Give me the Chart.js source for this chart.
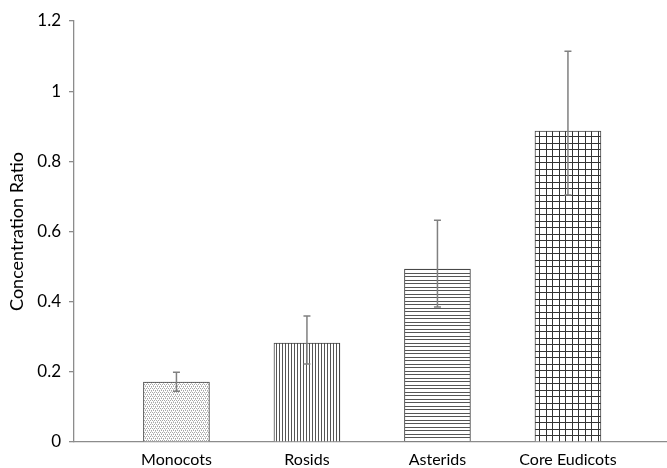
<!DOCTYPE html>
<html>
<head>
<meta charset="utf-8">
<script src="https://cdn.jsdelivr.net/npm/chart.js@4"></script>
<style>
  html, body { margin: 0; padding: 0; background: #fff; }
  #wrap { width: 667px; height: 468px; }
</style>
</head>
<body>
<div id="wrap"><canvas id="chart" width="667" height="468"></canvas></div>
<script>
// data
const categories = ["Monocots", "Rosids", "Asterids", "Core Eudicots"];
const ratios = [0.171, 0.282, 0.493, 0.886];
const errLow = [0.145, 0.222, 0.385, 0.704];
const errHigh = [0.199, 0.359, 0.632, 1.114];
const yTicks = [0, 0.2, 0.4, 0.6, 0.8, 1, 1.2];

// small fill patterns like the Excel originals
function makePattern(size, draw) {
    const c = document.createElement("canvas");
    c.width = size[0];
    c.height = size[1];
    const g = c.getContext("2d");
    g.fillStyle = "#fff";
    g.fillRect(0, 0, c.width, c.height);
    draw(g);
    return c.getContext("2d").createPattern(c, "repeat");
}

const ctx = document.getElementById("chart").getContext("2d");

const patterns = [
    makePattern([4, 4], g => {
        g.fillStyle = "#a8a8a8";
        g.fillRect(0, 0, 1, 1);
        g.fillRect(2, 0, 1, 1);
        g.fillRect(1, 2, 1, 1);
        g.fillRect(3, 2, 1, 1);
        g.fillStyle = "#c8c8c8";
        g.fillRect(1, 1, 1, 1);
        g.fillRect(3, 3, 1, 1);
    }),
    makePattern([3, 3], g => {
        g.fillStyle = "#555";
        g.fillRect(0, 0, 1, 3);
    }),
    makePattern([7, 7], g => {
        g.fillStyle = "#555";
        g.fillRect(0, 0, 7, 1);
        g.fillRect(0, 3, 7, 1);
    }),
    makePattern([13, 13], g => {
        g.fillStyle = "#333";
        g.fillRect(0, 0, 13, 1);
        g.fillRect(0, 6, 13, 1);
        g.fillRect(0, 0, 1, 13);
        g.fillRect(6, 0, 1, 13);
    })
];

// error bars drawn through the scales
const errorBars = {
    id: "errorBars",
    afterDatasetsDraw(chart) {
        const { ctx, scales } = chart;
        ctx.save();
        ctx.strokeStyle = "#808080";
        ctx.lineWidth = 1.5;
        categories.forEach((_, i) => {
            const x = scales.x.getPixelForValue(i);
            const yLo = scales.y.getPixelForValue(errLow[i]);
            const yHi = scales.y.getPixelForValue(errHigh[i]);
            ctx.beginPath();
            ctx.moveTo(x, yLo);
            ctx.lineTo(x, yHi);
            ctx.moveTo(x - 3.5, yLo);
            ctx.lineTo(x + 3.5, yLo);
            ctx.moveTo(x - 3.5, yHi);
            ctx.lineTo(x + 3.5, yHi);
            ctx.stroke();
        });
        ctx.restore();
    }
};

new Chart(ctx, {
    type: "bar",
    data: {
        datasets: [{
            data: ratios.map((v, i) => ({ x: i, y: v })),
            backgroundColor: patterns,
            borderColor: "#444",
            borderWidth: 1,
            barThickness: 66
        }]
    },
    options: {
        responsive: false,
        animation: false,
        layout: { padding: { top: 21, right: 0, left: 0, bottom: 0 } },
        plugins: {
            legend: { display: false },
            tooltip: { enabled: false }
        },
        scales: {
            x: {
                type: "linear",
                offset: false,
                min: -0.785,
                max: 3.759,
                afterBuildTicks: scale => {
                    scale.ticks = categories.map((_, i) => ({ value: i }));
                },
                afterFit: scale => { scale.height = 26; },
                ticks: {
                    callback: v => categories[v] ?? "",
                    color: "#000",
                    font: { family: "Lato", size: 16 },
                    padding: 0,
                    maxRotation: 0,
                    autoSkip: false
                },
                grid: { display: false },
                border: { display: true, color: "#8c8c8c", width: 1.3 }
            },
            y: {
                min: 0,
                max: 1.2,
                afterBuildTicks: scale => {
                    scale.ticks = yTicks.map(v => ({ value: v }));
                },
                afterFit: scale => { scale.width = 74; },
                ticks: {
                    callback: v => String(v),
                    color: "#000",
                    font: { family: "Lato", size: 17 },
                    padding: 8
                },
                grid: {
                    drawOnChartArea: false,
                    drawTicks: true,
                    tickLength: 5,
                    color: "#8c8c8c",
                    lineWidth: 1.3
                },
                border: { display: true, color: "#8c8c8c", width: 1.3 },
                title: {
                    display: true,
                    text: "Concentration Ratio",
                    color: "#000",
                    font: { family: "Lato", size: 18 },
                    padding: { top: 6, bottom: 0 }
                }
            }
        }
    },
    plugins: [errorBars]
});
</script>
</body>
</html>
